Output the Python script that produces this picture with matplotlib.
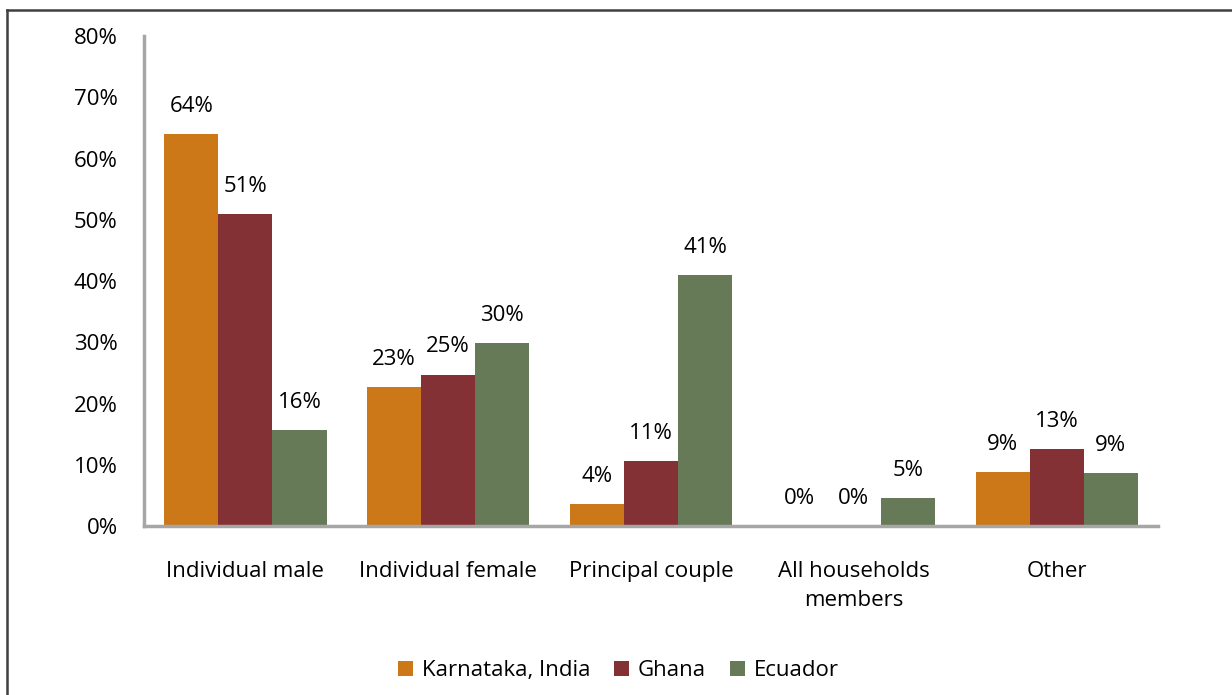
import numpy as np
import matplotlib
matplotlib.use("Agg")
import matplotlib.pyplot as plt
from matplotlib.lines import Line2D
from matplotlib.patches import Patch

plt.rcParams['font.family'] = ['Open Sans', 'DejaVu Sans']

categories = ["Individual male", "Individual female", "Principal couple",
              "All households\nmembers", "Other"]
series_names = ["Karnataka, India", "Ghana", "Ecuador"]
karnataka = [64.0, 22.7, 3.6, 0.0, 8.8]
ghana = [50.9, 24.7, 10.6, 0.0, 12.6]
ecuador = [15.6, 29.9, 41.0, 4.6, 8.6]
colors = ['#CC7818', '#833135', '#677A57']

fs = 16

fig = plt.figure(figsize=(12.32, 6.95), dpi=100)
ax = fig.add_axes([0.1169, 0.2432, 0.8231, 0.7048])

x = np.arange(len(categories))
w = 0.8 / 3
for i, (vals, col) in enumerate(zip([karnataka, ghana, ecuador], colors)):
    pos = x + (i - 1) * w
    ax.bar(pos, vals, width=w, color=col, zorder=2)
    for px, v in zip(pos, vals):
        ax.annotate(f"{round(v)}%", (px, v), xytext=(0, 20), textcoords='offset points',
                    ha='center', va='center', fontsize=fs, color='#000000')

ax.set_xlim(-0.5, len(categories) - 0.5)
ax.set_ylim(0, 80)
ax.set_yticks(np.arange(0, 81, 10))
ax.set_yticklabels([f"{t}%" for t in range(0, 81, 10)], fontsize=fs)
ax.set_xticks(x)
ax.set_xticklabels(categories, fontsize=fs, va='top', linespacing=1.5)
ax.tick_params(axis='both', length=0)
ax.tick_params(axis='x', pad=25)
ax.tick_params(axis='y', pad=19)

for s in ['top', 'right']:
    ax.spines[s].set_visible(False)
for s in ['left', 'bottom']:
    ax.spines[s].set_color('#A6A6A6')
    ax.spines[s].set_linewidth(2.5)

handles = [Patch(facecolor=c, edgecolor='none') for c in colors]
fig.legend(handles, series_names, loc='center', bbox_to_anchor=(0.502, 0.035),
           ncol=3, frameon=False, fontsize=fs, handlelength=0.65, handleheight=0.65,
           handletextpad=0.4, columnspacing=1.1)

# outer border (left and top edges)
fig.add_artist(Line2D([0.0057, 0.0057], [0, 0.9856], transform=fig.transFigure,
                      color='#404040', lw=1.8))
fig.add_artist(Line2D([0.0057, 1.0], [0.9856, 0.9856], transform=fig.transFigure,
                      color='#404040', lw=1.8))

fig.savefig("out.png", dpi=100)
